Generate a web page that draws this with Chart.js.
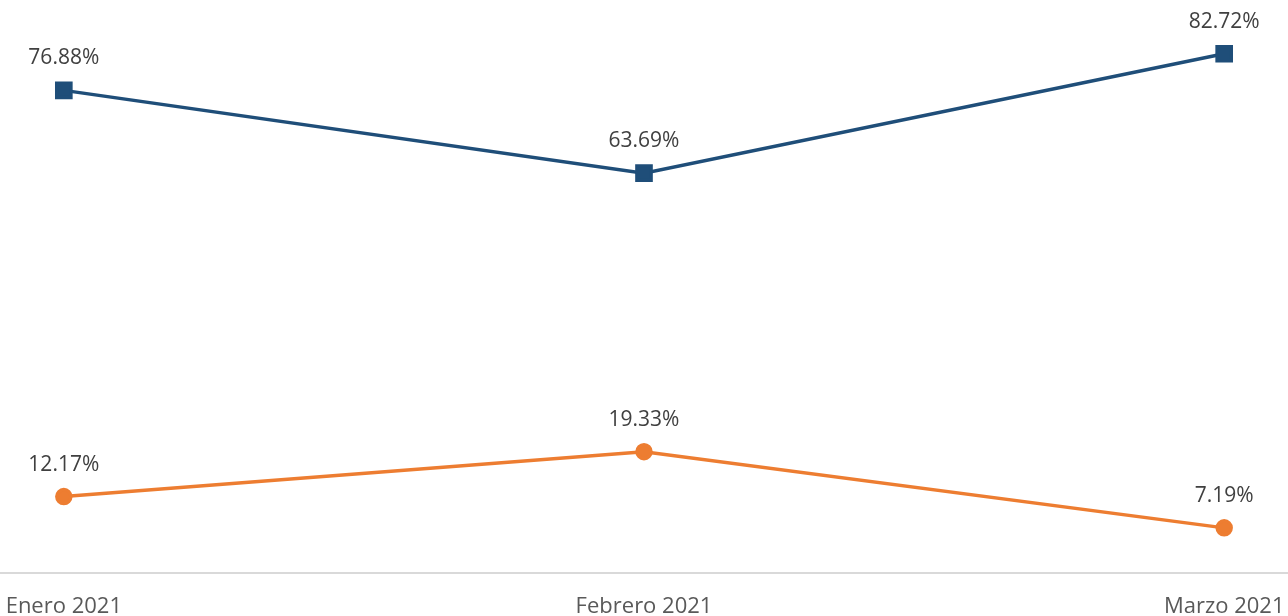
<!DOCTYPE html>
<html lang="es">
<head>
    <meta charset="UTF-8">
    <title>Chart</title>
    <style>
        html, body {
            margin: 0;
            padding: 0;
            background: #ffffff;
        }
        .wrap {
            width: 1288px;
            height: 616px;
        }
    </style>
</head>
<body>
    <div class="wrap">
        <canvas id="lineChart" width="1288" height="616"></canvas>
    </div>

    <script src="https://cdn.jsdelivr.net/npm/chart.js"></script>
    <script>
        // Data
        const months = ['Enero 2021', 'Febrero 2021', 'Marzo 2021'];
        const serieAzul = [76.88, 63.69, 82.72];
        const serieNaranja = [12.17, 19.33, 7.19];

        const toPoints = arr => arr.map((v, i) => ({ x: i, y: v }));

        // Simple data labels above each point
        const labelPlugin = {
            id: 'pointLabels',
            afterDatasetsDraw(chart) {
                const ctx = chart.ctx;
                ctx.save();
                ctx.font = '21px "Open Sans", sans-serif';
                ctx.fillStyle = '#404040';
                ctx.textAlign = 'center';
                ctx.textBaseline = 'middle';
                chart.data.datasets.forEach((ds, di) => {
                    chart.getDatasetMeta(di).data.forEach((pt, i) => {
                        ctx.fillText(ds.data[i].y.toFixed(2) + '%', pt.x, pt.y - 32);
                    });
                });
                ctx.restore();
            }
        };

        const lineChart = new Chart(document.getElementById('lineChart'), {
            type: 'line',
            data: {
                datasets: [{
                    label: 'Serie 1',
                    data: toPoints(serieAzul),
                    borderColor: '#1f4e79',
                    backgroundColor: '#1f4e79',
                    borderWidth: 3.5,
                    pointStyle: 'rect',
                    pointRadius: 10,
                    pointHoverRadius: 10,
                    fill: false,
                    tension: 0
                }, {
                    label: 'Serie 2',
                    data: toPoints(serieNaranja),
                    borderColor: '#ed7d31',
                    backgroundColor: '#ed7d31',
                    borderWidth: 3.5,
                    pointStyle: 'circle',
                    pointRadius: 7,
                    pointHoverRadius: 7,
                    fill: false,
                    tension: 0
                }]
            },
            options: {
                responsive: false,
                animation: false,
                layout: {
                    autoPadding: false,
                    padding: { top: 8, left: 0, right: 0, bottom: 0 }
                },
                plugins: {
                    legend: { display: false },
                    tooltip: { enabled: false }
                },
                scales: {
                    x: {
                        type: 'linear',
                        min: -0.11,
                        max: 2.11,
                        afterBuildTicks: axis => {
                            axis.ticks = months.map((m, i) => ({ value: i }));
                        },
                        afterFit: axis => {
                            // edge labels may run to the canvas border, fixed axis band
                            axis.paddingLeft = 0;
                            axis.paddingRight = 0;
                            axis.height = 43;
                        },
                        ticks: {
                            autoSkip: false,
                            maxRotation: 0,
                            padding: 21,
                            color: '#595959',
                            font: { family: '"Open Sans", sans-serif', size: 22 },
                            callback: value => months[value]
                        },
                        grid: { display: false, drawTicks: false },
                        border: { color: '#d9d9d9', width: 2 }
                    },
                    y: {
                        display: false,
                        min: 0,
                        max: 90
                    }
                }
            },
            plugins: [labelPlugin]
        });
    </script>
</body>
</html>
